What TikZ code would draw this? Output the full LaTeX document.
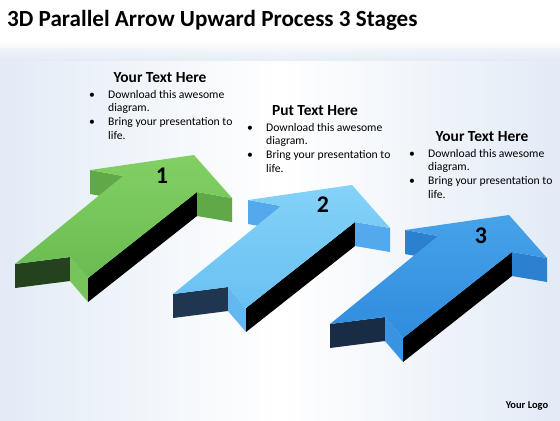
\documentclass[tikz,border=0pt]{standalone}
\usepackage{fontspec}
\setmainfont{Carlito}
\usetikzlibrary{calc}
\usepackage{xcolor}
\definecolor{bgblue}{RGB}{226,235,246}
\definecolor{grntop}{RGB}{130,208,100}
\definecolor{grntopdark}{RGB}{106,188,80}
\definecolor{grnwing}{RGB}{96,168,72}
\definecolor{grnnotch}{RGB}{118,196,90}
\definecolor{grnback}{RGB}{36,66,30}
\definecolor{skytop}{RGB}{132,210,248}
\definecolor{skytopdark}{RGB}{104,192,242}
\definecolor{skywing}{RGB}{84,168,236}
\definecolor{skynotch}{RGB}{100,184,242}
\definecolor{skyback}{RGB}{30,54,80}
\definecolor{deeptop}{RGB}{70,162,232}
\definecolor{deeptopdark}{RGB}{48,140,222}
\definecolor{deepwing}{RGB}{44,128,208}
\definecolor{deepnotch}{RGB}{56,148,226}
\definecolor{deepback}{RGB}{24,44,70}

\begin{document}
\begin{tikzpicture}[x=1bp,y=-1bp,
  headline/.style={font=\fontsize{15.5}{18}\selectfont\bfseries, inner sep=0pt, anchor=base},
  bodylist/.style={font=\fontsize{11.7}{13.8}\selectfont, inner sep=0pt, anchor=base west},
  stagenum/.style={font=\fontsize{24}{28}\selectfont\bfseries, inner sep=0pt, anchor=base}]
\useasboundingbox (0,0) rectangle (560,420);
\fill[white] (0,0) rectangle (560,420);
\shade[left color=bgblue, right color=bgblue, middle color=white] (0,48) rectangle (560,420);
\shade[top color=white, bottom color=white!0!bgblue, opacity=0.8] (0,40) rectangle (560,60);

% title
\node[font=\fontsize{23.2}{27}\selectfont\bfseries, inner sep=0pt, anchor=base west] (title) at (7,26.5) {3D Parallel Arrow Upward Process 3 Stages};

% arrow 1
\coordinate (arrow1) at (15,264);
\fill[grnback] (arrow1) -- ($(arrow1)+(55,-7)$) -- ($(arrow1)+(55,17)$) -- ($(arrow1)+(0,24)$) -- cycle;
\fill[grnnotch] ($(arrow1)+(55,-7)$) -- ($(arrow1)+(73,14)$) -- ($(arrow1)+(73,38)$) -- ($(arrow1)+(55,17)$) -- cycle;
\fill[black] ($(arrow1)+(73,14)$) -- ($(arrow1)+(182,-72)$) -- ($(arrow1)+(182,-48)$) -- ($(arrow1)+(73,38)$) -- cycle;
\fill[grnwing] ($(arrow1)+(182,-72)$) -- ($(arrow1)+(217,-66)$) -- ($(arrow1)+(217,-42)$) -- ($(arrow1)+(182,-48)$) -- cycle;
\fill[grnwing] ($(arrow1)+(75,-94)$) -- ($(arrow1)+(108,-88)$) -- ($(arrow1)+(108,-64)$) -- ($(arrow1)+(75,-70)$) -- cycle;
\shade[top color=grntop, bottom color=grntopdark] (arrow1) -- ($(arrow1)+(55,-7)$) -- ($(arrow1)+(73,14)$) -- ($(arrow1)+(182,-72)$) -- ($(arrow1)+(217,-66)$) -- ($(arrow1)+(179,-109)$) -- ($(arrow1)+(75,-94)$) -- ($(arrow1)+(108,-88)$) -- cycle;
\node[stagenum] (num1) at ($(arrow1)+(147,-81)$) {1};

% arrow 2
\coordinate (arrow2) at (173,294);
\fill[skyback] (arrow2) -- ($(arrow2)+(55,-7)$) -- ($(arrow2)+(55,17)$) -- ($(arrow2)+(0,24)$) -- cycle;
\fill[skynotch] ($(arrow2)+(55,-7)$) -- ($(arrow2)+(73,14)$) -- ($(arrow2)+(73,38)$) -- ($(arrow2)+(55,17)$) -- cycle;
\fill[black] ($(arrow2)+(73,14)$) -- ($(arrow2)+(182,-72)$) -- ($(arrow2)+(182,-48)$) -- ($(arrow2)+(73,38)$) -- cycle;
\fill[skywing] ($(arrow2)+(182,-72)$) -- ($(arrow2)+(217,-66)$) -- ($(arrow2)+(217,-42)$) -- ($(arrow2)+(182,-48)$) -- cycle;
\fill[skywing] ($(arrow2)+(75,-94)$) -- ($(arrow2)+(108,-88)$) -- ($(arrow2)+(108,-64)$) -- ($(arrow2)+(75,-70)$) -- cycle;
\shade[top color=skytop, bottom color=skytopdark] (arrow2) -- ($(arrow2)+(55,-7)$) -- ($(arrow2)+(73,14)$) -- ($(arrow2)+(182,-72)$) -- ($(arrow2)+(217,-66)$) -- ($(arrow2)+(179,-109)$) -- ($(arrow2)+(75,-94)$) -- ($(arrow2)+(108,-88)$) -- cycle;
\node[stagenum] (num2) at ($(arrow2)+(150,-82)$) {2};

% arrow 3
\coordinate (arrow3) at (330,324);
\fill[deepback] (arrow3) -- ($(arrow3)+(55,-7)$) -- ($(arrow3)+(55,17)$) -- ($(arrow3)+(0,24)$) -- cycle;
\fill[deepnotch] ($(arrow3)+(55,-7)$) -- ($(arrow3)+(73,14)$) -- ($(arrow3)+(73,38)$) -- ($(arrow3)+(55,17)$) -- cycle;
\fill[black] ($(arrow3)+(73,14)$) -- ($(arrow3)+(182,-72)$) -- ($(arrow3)+(182,-48)$) -- ($(arrow3)+(73,38)$) -- cycle;
\fill[deepwing] ($(arrow3)+(182,-72)$) -- ($(arrow3)+(217,-66)$) -- ($(arrow3)+(217,-42)$) -- ($(arrow3)+(182,-48)$) -- cycle;
\fill[deepwing] ($(arrow3)+(75,-94)$) -- ($(arrow3)+(108,-88)$) -- ($(arrow3)+(108,-64)$) -- ($(arrow3)+(75,-70)$) -- cycle;
\shade[top color=deeptop, bottom color=deeptopdark] (arrow3) -- ($(arrow3)+(55,-7)$) -- ($(arrow3)+(73,14)$) -- ($(arrow3)+(182,-72)$) -- ($(arrow3)+(217,-66)$) -- ($(arrow3)+(179,-109)$) -- ($(arrow3)+(75,-94)$) -- ($(arrow3)+(108,-88)$) -- cycle;
\node[stagenum] (num3) at ($(arrow3)+(151,-81)$) {3};

% text blocks
\node[headline] (head1) at (160,82.7) {Your Text Here};
\node[bodylist] (list1) at (89,98) {\begin{tabular}[t]{@{}l@{}l@{}}
\makebox[19bp][l]{\textbullet} & Download this awesome\\ & diagram.\\
\makebox[19bp][l]{\textbullet} & Bring your presentation to\\ & life.\end{tabular}};
\node[headline] (head2) at (315,115) {Put Text Here};
\node[bodylist] (list2) at (247,131) {\begin{tabular}[t]{@{}l@{}l@{}}
\makebox[19bp][l]{\textbullet} & Download this awesome\\ & diagram.\\
\makebox[19bp][l]{\textbullet} & Bring your presentation to\\ & life.\end{tabular}};
\node[headline] (head3) at (482,141.7) {Your Text Here};
\node[bodylist] (list3) at (409,157) {\begin{tabular}[t]{@{}l@{}l@{}}
\makebox[19bp][l]{\textbullet} & Download this awesome\\ & diagram.\\
\makebox[19bp][l]{\textbullet} & Bring your presentation to\\ & life.\end{tabular}};

\node[font=\fontsize{10.5}{12}\selectfont\bfseries, inner sep=0pt, anchor=base] (logo) at (527,408) {Your Logo};
\end{tikzpicture}
\end{document}
